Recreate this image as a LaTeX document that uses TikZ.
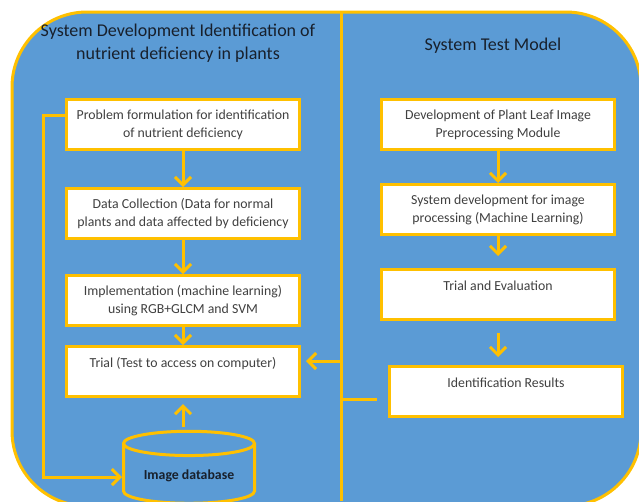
\documentclass[tikz,border=0pt]{standalone}
\usepackage{fontspec}
\setmainfont{Carlito}
\usetikzlibrary{arrows.meta}
\usetikzlibrary{positioning}
\usetikzlibrary{shapes}

\definecolor{panel}{RGB}{91,155,213}
\definecolor{gold}{RGB}{255,192,0}
\definecolor{ink}{RGB}{64,64,64}
\definecolor{titleink}{RGB}{24,32,44}

\begin{document}
\begin{tikzpicture}[
      x=1pt, y=-1pt,
      process/.style={rectangle, draw=gold, fill=white, line width=3pt,
        minimum width=233pt, minimum height=50pt, align=center, text=ink,
        font=\fontsize{13.8}{18}\selectfont},
      storage/.style={cylinder, shape border rotate=90, aspect=0.25,
        draw=gold, line width=3pt, minimum width=131pt, minimum height=72pt,
        text=titleink, font=\fontsize{13.8}{16}\selectfont\bfseries},
      header/.style={align=center, text=titleink,
        font=\fontsize{18}{23}\selectfont},
      line/.style={draw=gold, line width=3pt},
      flow/.style={line, -{Straight Barb[length=8pt, width=16pt]}},
      node distance=36pt
    ]
      \useasboundingbox (0,0) rectangle (639,501);
      \clip (0,0) rectangle (639,501);
      \path [fill=panel, draw=gold, line width=3pt, rounded corners=75pt]
            (12,12) rectangle (641,506);

      % two halves of the panel
      \coordinate (divtop) at (341,12);
      \coordinate (divbottom) at (341,501);
      \draw [line] (divtop) -- (divbottom);

      \node [header] (lefttitle) at (178,43.5)
            {System Development Identification of\\nutrient deficiency in plants};
      \node [header] (righttitle) at (493,46) {System Test Model};

      % development side
      \node [process] (problem) at (183,124.5)
            {Problem formulation for identification\\of nutrient deficiency};
      \node [process, below=of problem] (collection)
            {Data Collection (Data for normal\\plants and data affected by deficiency};
      \node [process, below=34pt of collection] (implementation)
            {Implementation (machine learning)\\using RGB+GLCM and SVM};
      \node [process, below=18pt of implementation] (trial)
            {Trial (Test to access on computer)\\ \mbox{}};
      \node [storage] (database) at (189,476) {Image database};

      % test side
      \node [process] (preprocessing) at (498,124.5)
            {Development of Plant Leaf Image\\Preprocessing Module};
      \node [process, below=32pt of preprocessing] (mlsystem)
            {System development for image\\processing (Machine Learning)};
      \node [process, below=32pt of mlsystem] (evaluation)
            {Trial and Evaluation\\ \mbox{}};
      \node [process, below=44pt of evaluation, xshift=8pt] (results)
            {Identification Results\\ \mbox{}};

      \draw [flow] (problem) -- (collection);
      \draw [flow] (collection) -- (implementation);
      \draw [flow] (implementation) -- (trial);
      \coordinate (dbtop) at ([yshift=3pt]database.north);
      \draw [flow, shorten >=6pt] (trial.south |- dbtop) -- (trial.south);
      \draw [flow] ([yshift=9.5pt]problem.west) -- ++(-22,0)
            |- ([yshift=-1pt]database.west);

      \draw [flow] (preprocessing) -- (mlsystem);
      \draw [flow, shorten >=12pt] (mlsystem) -- (evaluation);
      \draw [flow, shorten <=12pt, shorten >=8pt]
            (evaluation.south) -- (evaluation.south |- results.north);

      % links across the divider
      \coordinate (trialin) at ([yshift=10.5pt]trial.east);
      \coordinate (resultsin) at ([yshift=-8pt]results.west);
      \draw [flow, shorten >=5pt] (divbottom |- trialin) -- (trialin);
      \draw [line, shorten >=11pt] (divbottom |- resultsin) -- (resultsin);
    \end{tikzpicture}
\end{document}
